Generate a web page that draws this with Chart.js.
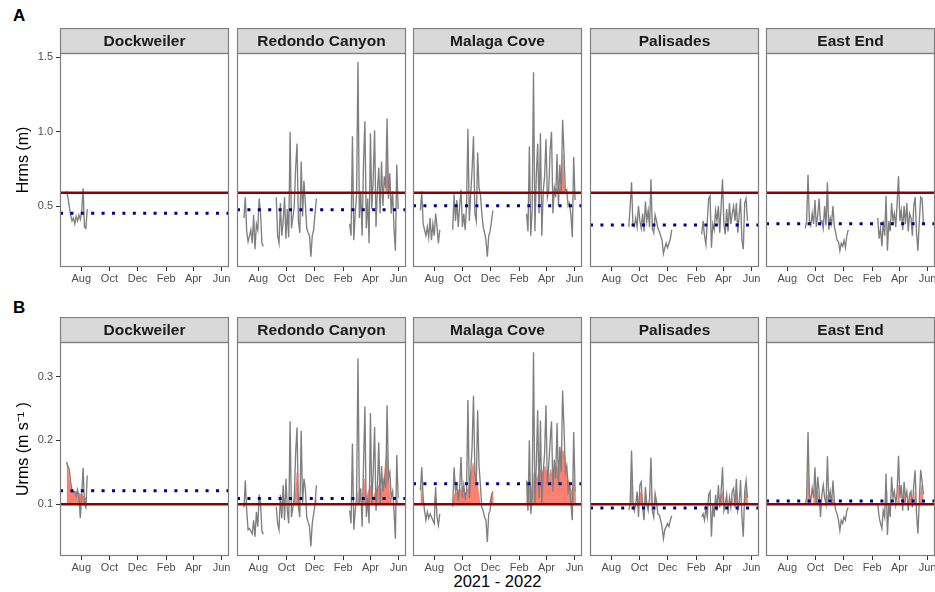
<!DOCTYPE html>
<html>
<head>
<meta charset="utf-8">
<script src="https://cdn.jsdelivr.net/npm/chart.js@4.4.1/dist/chart.umd.min.js"></script>
<style>
  body { margin: 0; background: #fff; }
  #wrap { position: relative; width: 935px; height: 592px; overflow: hidden; }
  #wrap canvas { position: absolute; }
  .lbl { position: absolute; font-family: 'Liberation Sans', Arial, sans-serif; color: #000; white-space: nowrap; }
</style>
</head>
<body>
<div id="wrap">
  <div class="lbl" style="left:13px;top:6px;font-size:17px;font-weight:bold;">A</div>
  <div class="lbl" style="left:13px;top:298px;font-size:17px;font-weight:bold;">B</div>
  <div class="lbl" style="left:0;width:995px;top:572px;font-size:16.5px;text-align:center;">2021 - 2022</div>
</div>
<script>
// Axis labels
const siteNames = ['Dockweiler', 'Redondo Canyon', 'Malaga Cove', 'Palisades', 'East End'];
const monthLabels = ['Aug', 'Oct', 'Dec', 'Feb', 'Apr', 'Jun'];
const monthDays = [212, 273, 334, 396, 455, 516]; // days counted from 1 Jan 2021
const sampleStep = 3; // days between readings in each segment

const hrmsTicks = [0.5, 1.0, 1.5];
const urmsTicks = [0.1, 0.2, 0.3];
const hrmsThreshold = 0.59;
const urmsThreshold = 0.1;
const hrmsMean = [0.451, 0.475, 0.502, 0.372, 0.381];
const urmsMean = [0.121, 0.109, 0.132, 0.094, 0.105];

// Dockweiler
const dockStarts = [180];
const dockHrms = [
	[0.60, 0.56, 0.50, 0.44, 0.40, 0.42, 0.38, 0.43, 0.40, 0.44, 0.41, 0.46, 0.62, 0.36, 0.35, 0.48],
];
const dockUrms = [
	[0.166, 0.160, 0.155, 0.135, 0.122, 0.118, 0.12, 0.113, 0.123, 0.112, 0.078, 0.115, 0.157, 0.10, 0.095, 0.145],
];

// Redondo Canyon
const redondoStarts = [181, 251, 410];
const redondoHrms = [
	[0.42, 0.56, 0.33, 0.26, 0.30, 0.34, 0.25, 0.44, 0.21, 0.38, 0.34, 0.55, 0.45, 0.25, 0.23],
	[0.56, 0.30, 0.25, 0.52, 0.30, 0.40, 0.56, 0.28, 0.48, 0.29, 1.00, 0.35, 0.42, 0.50, 0.76, 0.92, 0.40, 0.32, 0.80, 0.43,
	 0.67, 0.52, 0.35, 0.32, 0.30, 0.16, 0.30, 0.34, 0.45, 0.55],
	[0.38, 0.30, 0.97, 0.27, 0.45, 0.58, 1.47, 0.42, 0.60, 0.30, 0.79, 1.07, 0.35, 0.55, 0.25, 0.99, 0.48, 0.68, 1.01, 0.36,
	 0.60, 0.76, 0.45, 0.80, 0.50, 0.70, 0.62, 1.09, 0.55, 0.72, 0.45, 0.60, 0.35, 0.20, 0.78, 0.48],
];
const redondoUrms = [
	[0.095, 0.137, 0.09, 0.060, 0.062, 0.058, 0.054, 0.075, 0.049, 0.088, 0.065, 0.115, 0.10, 0.058, 0.053],
	[0.096, 0.070, 0.060, 0.115, 0.078, 0.13, 0.075, 0.14, 0.09, 0.07, 0.23, 0.08, 0.095, 0.11, 0.18, 0.22, 0.095, 0.08, 0.215, 0.10,
	 0.14, 0.125, 0.08, 0.072, 0.065, 0.034, 0.07, 0.085, 0.10, 0.13],
	[0.09, 0.07, 0.195, 0.06, 0.09, 0.11, 0.328, 0.10, 0.125, 0.065, 0.16, 0.253, 0.08, 0.11, 0.07, 0.243, 0.10, 0.15, 0.221, 0.09,
	 0.125, 0.197, 0.10, 0.16, 0.12, 0.14, 0.125, 0.255, 0.14, 0.15, 0.11, 0.12, 0.09, 0.046, 0.177, 0.11],
];

// Malaga Cove
const malagaStarts = [182, 252, 412];
const malagaHrms = [
	[0.47, 0.60, 0.38, 0.34, 0.30, 0.36, 0.29, 0.42, 0.27, 0.38, 0.30, 0.45, 0.36, 0.25, 0.34],
	[0.34, 0.58, 0.40, 0.54, 0.36, 0.50, 0.61, 0.36, 0.45, 0.34, 0.50, 1.02, 0.40, 0.58, 0.75, 0.97, 0.45, 0.40, 0.86, 0.62,
	 0.58, 0.45, 0.36, 0.32, 0.27, 0.16, 0.30, 0.33, 0.40, 0.47],
	[0.45, 0.33, 0.90, 0.30, 0.47, 1.40, 0.33, 0.70, 0.92, 0.45, 0.99, 0.30, 0.60, 0.70, 0.95, 0.56, 0.61, 0.88, 1.00, 0.45,
	 0.62, 0.56, 0.85, 0.50, 0.78, 0.58, 1.08, 0.86, 0.59, 0.61, 0.50, 0.52, 0.44, 0.29, 0.83, 0.54],
];
const malagaUrms = [
	[0.122, 0.158, 0.11, 0.09, 0.075, 0.088, 0.078, 0.085, 0.08, 0.075, 0.07, 0.127, 0.08, 0.067, 0.085],
	[0.096, 0.158, 0.12, 0.13, 0.105, 0.125, 0.174, 0.11, 0.13, 0.11, 0.12, 0.263, 0.11, 0.15, 0.19, 0.27, 0.15, 0.13, 0.247, 0.16,
	 0.13, 0.095, 0.09, 0.08, 0.075, 0.041, 0.085, 0.09, 0.115, 0.12],
	[0.137, 0.09, 0.20, 0.085, 0.11, 0.338, 0.10, 0.16, 0.247, 0.11, 0.231, 0.10, 0.15, 0.18, 0.255, 0.13, 0.16, 0.20, 0.23, 0.12,
	 0.17, 0.14, 0.227, 0.13, 0.19, 0.15, 0.278, 0.22, 0.15, 0.16, 0.12, 0.13, 0.10, 0.075, 0.213, 0.12],
];

// Palisades
const palisadesStarts = [250, 408];
const palisadesHrms = [
	[0.36, 0.50, 0.66, 0.37, 0.36, 0.42, 0.36, 0.50, 0.40, 0.35, 0.45, 0.33, 0.53, 0.40, 0.47, 0.36, 0.68, 0.35, 0.32, 0.44,
	 0.40, 0.35, 0.33, 0.30, 0.27, 0.18, 0.22, 0.25, 0.22, 0.25, 0.28, 0.34],
	[0.31, 0.40, 0.30, 0.24, 0.40, 0.55, 0.57, 0.22, 0.38, 0.34, 0.47, 0.40, 0.50, 0.32, 0.50, 0.68, 0.38, 0.31, 0.48, 0.33,
	 0.52, 0.38, 0.45, 0.50, 0.40, 0.52, 0.32, 0.44, 0.55, 0.27, 0.21, 0.52, 0.55, 0.40],
];
const palisadesUrms = [
	[0.091, 0.10, 0.184, 0.105, 0.09, 0.10, 0.12, 0.08, 0.13, 0.135, 0.095, 0.075, 0.127, 0.10, 0.09, 0.11, 0.173, 0.09, 0.08, 0.117,
	 0.105, 0.085, 0.083, 0.075, 0.065, 0.046, 0.06, 0.065, 0.07, 0.065, 0.075, 0.082],
	[0.08, 0.085, 0.075, 0.095, 0.08, 0.115, 0.12, 0.049, 0.10, 0.08, 0.115, 0.09, 0.13, 0.095, 0.12, 0.158, 0.09, 0.10, 0.115, 0.085,
	 0.11, 0.095, 0.12, 0.125, 0.095, 0.14, 0.09, 0.10, 0.138, 0.08, 0.049, 0.12, 0.137, 0.11],
];

// East End
const eastStarts = [251, 408];
const eastHrms = [
	[0.35, 0.40, 0.71, 0.40, 0.37, 0.45, 0.38, 0.54, 0.36, 0.44, 0.55, 0.38, 0.40, 0.35, 0.50, 0.37, 0.66, 0.34, 0.42, 0.38,
	 0.50, 0.36, 0.32, 0.27, 0.26, 0.20, 0.25, 0.23, 0.27, 0.22, 0.30, 0.34],
	[0.42, 0.28, 0.35, 0.23, 0.40, 0.30, 0.57, 0.20, 0.40, 0.33, 0.52, 0.40, 0.45, 0.36, 0.52, 0.70, 0.40, 0.47, 0.34, 0.50,
	 0.38, 0.52, 0.33, 0.45, 0.42, 0.30, 0.50, 0.56, 0.32, 0.20, 0.40, 0.56, 0.55, 0.38],
];
const eastUrms = [
	[0.10, 0.11, 0.213, 0.115, 0.105, 0.125, 0.11, 0.158, 0.10, 0.143, 0.12, 0.08, 0.115, 0.13, 0.11, 0.10, 0.175, 0.105, 0.12, 0.10,
	 0.137, 0.105, 0.09, 0.085, 0.075, 0.059, 0.075, 0.07, 0.08, 0.075, 0.09, 0.095],
	[0.10, 0.08, 0.07, 0.062, 0.09, 0.08, 0.148, 0.052, 0.10, 0.08, 0.143, 0.11, 0.12, 0.10, 0.12, 0.176, 0.11, 0.13, 0.09, 0.135,
	 0.11, 0.12, 0.09, 0.115, 0.12, 0.095, 0.13, 0.153, 0.085, 0.054, 0.105, 0.154, 0.135, 0.115],
];

// Exceedance (shaded) series: [day, value], null = break
const redondoHrmsExcess = [[487, 0.59], [491, 0.87], [495, 0.59]];
const malagaHrmsExcess = [[470, 0.59], [475, 0.62], [482, 0.61], [488, 0.65], [491, 0.85], [494, 0.62], [498, 0.59]];
const dockUrmsExcess = [[180, 0.165], [183, 0.16], [186, 0.14], [190, 0.125], [198, 0.12], [206, 0.118], [214, 0.115], [220, 0.11], [225, 0.11]];
const redondoUrmsExcess = [
	[288, 0.10], [292, 0.12], [296, 0.15], [299, 0.11], [302, 0.10], null,
	[334, 0.10], [337, 0.11], [339, 0.10], null,
	[425, 0.10], [428, 0.12], [431, 0.10], null,
	[438, 0.10], [442, 0.14], [446, 0.11], [450, 0.12], [455, 0.13], [460, 0.11], [466, 0.12], [472, 0.13], [478, 0.12],
	[484, 0.14], [488, 0.17], [491, 0.185], [494, 0.15], [498, 0.11], [502, 0.10], null,
	[510, 0.10], [513, 0.11], [515, 0.10],
];
const malagaUrmsExcess = [
	[182, 0.10], [183, 0.13], [187, 0.11], [190, 0.10], null,
	[211, 0.10], [214, 0.115], [217, 0.10], null,
	[252, 0.10], [255, 0.115], [262, 0.12], [268, 0.125], [275, 0.115], [282, 0.12], [288, 0.13], [292, 0.15], [296, 0.165],
	[300, 0.15], [304, 0.14], [308, 0.12], [312, 0.10], null,
	[331, 0.10], [334, 0.11], [339, 0.12], [340, 0.10], null,
	[412, 0.10], [413, 0.13], [418, 0.14], [424, 0.12], [428, 0.15], [434, 0.14], [440, 0.155], [446, 0.15], [452, 0.16],
	[458, 0.14], [464, 0.155], [470, 0.14], [476, 0.16], [482, 0.15], [486, 0.17], [490, 0.185], [494, 0.18], [498, 0.16],
	[502, 0.14], [506, 0.13], [510, 0.12], [514, 0.14], [517, 0.12], [518, 0.10],
];
const palisadesUrmsExcess = [
	[254, 0.10], [256, 0.155], [258, 0.10], null,
	[270, 0.10], [274, 0.12], [278, 0.115], [281, 0.10], null,
	[284, 0.10], [287, 0.114], [290, 0.10], null,
	[296, 0.10], [298, 0.12], [300, 0.10], null,
	[305, 0.10], [307, 0.11], [310, 0.10], null,
	[446, 0.10], [450, 0.115], [454, 0.12], [457, 0.10], null,
	[470, 0.10], [474, 0.11], [477, 0.10], null,
	[481, 0.10], [484, 0.12], [487, 0.10], null,
	[499, 0.10], [502, 0.12], [505, 0.125], [508, 0.10],
];
const eastUrmsExcess = [
	[255, 0.10], [257, 0.165], [260, 0.11], [264, 0.10], null,
	[268, 0.10], [272, 0.125], [278, 0.12], [282, 0.10], null,
	[294, 0.10], [299, 0.115], [302, 0.10], null,
	[308, 0.10], [311, 0.11], [314, 0.10], null,
	[424, 0.10], [426, 0.12], [428, 0.10], null,
	[450, 0.10], [453, 0.13], [456, 0.10], null,
	[462, 0.10], [466, 0.115], [470, 0.10], null,
	[474, 0.10], [478, 0.12], [481, 0.10], null,
	[486, 0.10], [489, 0.12], [491, 0.10], null,
	[499, 0.10], [502, 0.13], [505, 0.12], [507, 0.10],
];

const siteStarts = [dockStarts, redondoStarts, malagaStarts, palisadesStarts, eastStarts];
const siteHrms = [dockHrms, redondoHrms, malagaHrms, palisadesHrms, eastHrms];
const siteUrms = [dockUrms, redondoUrms, malagaUrms, palisadesUrms, eastUrms];
const siteHrmsExcess = [[], redondoHrmsExcess, malagaHrmsExcess, [], []];
const siteUrmsExcess = [dockUrmsExcess, redondoUrmsExcess, malagaUrmsExcess, palisadesUrmsExcess, eastUrmsExcess];

// Layout
const FONT = '"Liberation Sans", Arial, sans-serif';
const panelLefts = [60, 237, 413, 590, 766];
const panelWidth = 169;
const rowTops = [28, 317];
const canvasHeight = 262;
const stripHeight = 25;
const xAxisHeight = 23;
const dayMin = 166;
const dayMax = 532;

Chart.defaults.font.family = FONT;

function seriesPoints(starts, segments) {
	const pts = [];
	segments.forEach((seg, s) => {
		if (s > 0) pts.push({ x: starts[s] - 1, y: null });
		seg.forEach((v, i) => pts.push({ x: starts[s] + i * sampleStep, y: v }));
	});
	return pts;
}

function excessPoints(list) {
	const pts = [];
	list.forEach((p, i) => {
		if (p === null) pts.push({ x: list[i - 1][0] + 0.5, y: null });
		else pts.push({ x: p[0], y: p[1] });
	});
	return pts;
}

// strip header + panel border
const stripPlugin = {
	id: 'strip',
	afterDraw(chart, args, opts) {
		const { ctx, chartArea: a } = chart;
		const w = a.right - a.left;
		ctx.save();
		ctx.fillStyle = '#d9d9d9';
		ctx.fillRect(a.left, a.top - stripHeight, w, stripHeight);
		ctx.strokeStyle = '#7f7f7f';
		ctx.lineWidth = 1.2;
		ctx.strokeRect(a.left + 0.5, a.top - stripHeight + 0.5, w - 1, stripHeight);
		ctx.strokeRect(a.left + 0.5, a.top + 0.5, w - 1, a.bottom - a.top - 1);
		ctx.fillStyle = '#1a1a1a';
		ctx.font = 'bold 15.5px ' + FONT;
		ctx.textAlign = 'center';
		ctx.textBaseline = 'middle';
		ctx.fillText(opts.text, a.left + w / 2, a.top - stripHeight / 2 + 1);
		ctx.restore();
	},
};

function makePanel(row, col) {
	const isA = row === 0;
	const first = col === 0;
	const canvas = document.createElement('canvas');
	const left = first ? 0 : panelLefts[col] - 1;
	const width = first ? panelLefts[0] + panelWidth + 1 : panelWidth + 2;
	canvas.width = width;
	canvas.height = canvasHeight;
	canvas.style.left = left + 'px';
	canvas.style.top = rowTops[row] + 'px';
	canvas.style.width = width + 'px';
	canvas.style.height = canvasHeight + 'px';
	document.getElementById('wrap').appendChild(canvas);

	const thr = isA ? hrmsThreshold : urmsThreshold;
	const mean = isA ? hrmsMean[col] : urmsMean[col];
	const values = isA ? siteHrms[col] : siteUrms[col];
	const excess = isA ? siteHrmsExcess[col] : siteUrmsExcess[col];
	const yTicks = isA ? hrmsTicks : urmsTicks;

	new Chart(canvas, {
		type: 'line',
		data: {
			datasets: [
				{
					label: 'threshold',
					data: [{ x: dayMin, y: thr }, { x: dayMax, y: thr }],
					borderColor: '#8b0000',
					borderWidth: 2.6,
					pointRadius: 0,
				},
				{
					label: 'mean',
					data: [{ x: dayMin, y: mean }, { x: dayMax, y: mean }],
					borderColor: '#00008b',
					borderWidth: 3,
					borderDash: [3, 7.4],
					pointRadius: 0,
				},
				{
					label: isA ? 'Hrms' : 'Urms',
					data: seriesPoints(siteStarts[col], values),
					borderColor: '#7f7f7f',
					borderWidth: 1.35,
					pointRadius: 0,
					tension: 0,
					spanGaps: false,
				},
				{
					label: 'exceedance',
					data: excessPoints(excess),
					borderColor: '#fa8072',
					borderWidth: 0.5,
					backgroundColor: '#fa8072',
					pointRadius: 0,
					spanGaps: false,
					fill: { target: { value: thr }, above: '#fa8072', below: 'rgba(0,0,0,0)' },
				},
			],
		},
		options: {
			responsive: false,
			animation: false,
			layout: { padding: { top: stripHeight, left: first ? 0 : 1, right: 1, bottom: 0 } },
			scales: {
				x: {
					type: 'linear',
					min: dayMin,
					max: dayMax,
					afterBuildTicks: (s) => { s.ticks = monthDays.map((v) => ({ value: v })); },
					afterFit: (s) => { s.height = xAxisHeight; s.paddingLeft = 0; s.paddingRight = 0; },
					ticks: {
						callback: (v, i) => monthLabels[i],
						color: '#4d4d4d',
						font: { size: 11 },
						padding: 1,
						maxRotation: 0,
						autoSkip: false,
					},
					grid: { drawOnChartArea: false, tickLength: 4, tickColor: '#333333', lineWidth: 1 },
					border: { display: false },
				},
				y: {
					type: 'linear',
					display: first,
					min: isA ? 0.09 : 0.019,
					max: isA ? 1.53 : 0.354,
					afterBuildTicks: (s) => { s.ticks = yTicks.map((v) => ({ value: v })); },
					afterFit: (s) => { s.width = first ? panelLefts[0] : 0; s.paddingTop = 0; s.paddingBottom = 0; },
					ticks: {
						callback: (v) => v.toFixed(1),
						color: '#4d4d4d',
						font: { size: 11 },
						padding: 3,
					},
					grid: { drawOnChartArea: false, tickLength: 4, tickColor: '#333333', lineWidth: 1 },
					border: { display: false },
					title: {
						display: true,
						text: isA ? 'Hrms (m)' : 'Urms (m s\u207B\u00B9 )',
						color: '#000',
						font: { size: 16 },
						padding: { top: 14, bottom: 0 },
					},
				},
			},
			plugins: {
				legend: { display: false },
				tooltip: { enabled: false },
				strip: { text: siteNames[col] },
			},
		},
		plugins: [stripPlugin],
	});
}

[0, 1].forEach((row) => {
	siteNames.forEach((name, col) => makePanel(row, col));
});
</script>
</body>
</html>
